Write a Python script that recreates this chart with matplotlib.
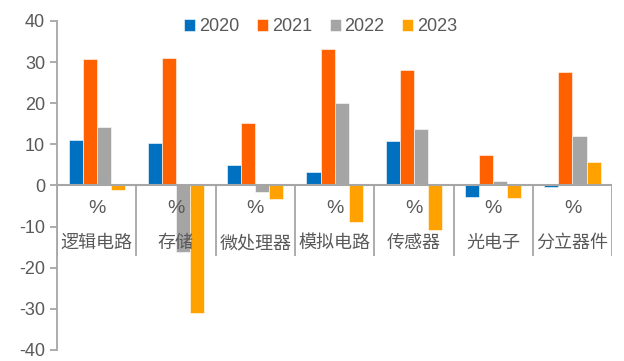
import numpy as np
import matplotlib
matplotlib.use('Agg')
import matplotlib.pyplot as plt

plt.rcParams['font.family'] = ['Liberation Sans', 'Noto Sans CJK SC']
plt.rcParams['axes.unicode_minus'] = False

categories = ['逻辑电路', '存储', '微处理器', '模拟电路', '传感器', '光电子', '分立器件']
years = ['2020', '2021', '2022', '2023']
v2020 = [11.1, 10.3, 4.9, 3.2, 10.7, -2.8, -0.4]
v2021 = [30.7, 30.9, 15.1, 33.1, 28.0, 7.5, 27.5]
v2022 = [14.1, -16.2, -1.5, 20.0, 13.7, 1.1, 12.1]
v2023 = [-1.0, -30.9, -3.2, -8.9, -10.8, -3.0, 5.8]
colors = ['#0070C0', '#FF6000', '#A5A5A5', '#FFA200']

txt = '#595959'
axis_gray = '#A6A6A6'

fig = plt.figure(figsize=(6.24, 3.61), dpi=100)
ax = fig.add_axes([0.0913, 0.0305, 0.8897, 0.9115])

x = np.arange(len(categories))
w = 0.177
series = [v2020, v2021, v2022, v2023]
for i, (vals, c, yr) in enumerate(zip(series, colors, years)):
    ax.bar(x + (i - 1.5) * w, vals, w, color=c, edgecolor='white', linewidth=0.4, label=yr, zorder=2)

ax.set_xlim(-0.5, len(categories) - 0.5)
ax.set_ylim(-40, 40)
ax.set_yticks(np.arange(-40, 41, 10))
ax.tick_params(axis='y', colors=axis_gray, labelcolor=txt, labelsize=13, length=5, width=1.3, direction='out')
ax.set_xticks([])

for s in ['top', 'right', 'bottom']:
    ax.spines[s].set_visible(False)
ax.spines['left'].set_color(axis_gray)
ax.spines['left'].set_linewidth(1.3)

# zero line and category separators
ax.axhline(0, color=axis_gray, lw=1.5, zorder=3)
bounds = np.arange(len(categories) + 1) - 0.5
ax.vlines(bounds, -17.2, 0, color=axis_gray, lw=1.3, zorder=3)

for xi, name in zip(x, categories):
    ax.text(xi, -5.6, '%', ha='center', va='center', fontsize=14, color=txt, zorder=4)
    ax.text(xi, -14.1, name, ha='center', va='center', fontsize=13, color=txt, zorder=4)

fig.legend(loc='center', bbox_to_anchor=(0.514, 0.926), ncol=4, frameon=False,
           fontsize=13, labelcolor=txt, handlelength=0.6, handleheight=0.6,
           handletextpad=0.2, columnspacing=1.0)

fig.savefig('out.png', dpi=100)
